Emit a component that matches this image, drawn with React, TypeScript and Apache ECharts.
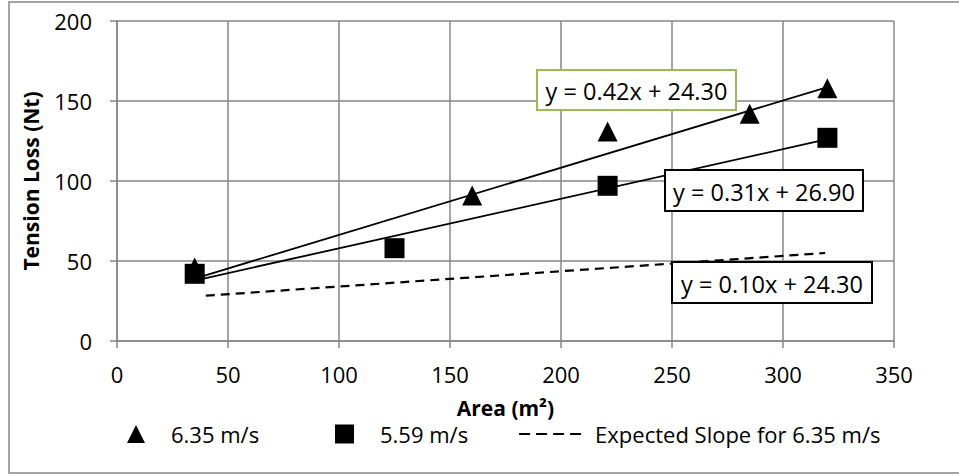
import React, { useEffect, useRef } from "react";
import * as echarts from "echarts";

// Observed data (Area m², Tension Loss Nt)
const speed635: [number, number][] = [
  [35, 46],
  [160, 91],
  [221, 131],
  [285, 142],
  [320, 158],
];
const speed559: [number, number][] = [
  [35, 42],
  [125, 58],
  [221, 97],
  [320, 127],
];
// Trend line end points
const trend635: [number, number][] = [
  [35, 39],
  [320, 158.7],
];
const trend559: [number, number][] = [
  [35, 37.8],
  [320, 126.1],
];
const expected635: [number, number][] = [
  [40, 28.3],
  [319, 55],
];
const equationLabels = ["y = 0.42x + 24.30", "y = 0.31x + 26.90", "y = 0.10x + 24.30"];
const seriesNames = ["6.35 m/s", "5.59 m/s", "Expected Slope for 6.35 m/s"];

const FONT = "Open Sans";
const GRID = "#878787";

export default function App() {
  const ref = useRef<HTMLDivElement>(null);
  useEffect(() => {
    if (!ref.current) return;
    const chart = echarts.init(ref.current, undefined, { renderer: "svg" });
    const labelBox = (x: number, y: number, w: number, h: number, text: string, stroke: string) => ({
      type: "group",
      children: [
        {
          type: "rect",
          shape: { x, y, width: w, height: h },
          style: { fill: "#fff", stroke, lineWidth: 2 },
          z: 10,
        },
        {
          type: "text",
          x: x + w / 2,
          y: y + h / 2 + 1,
          style: {
            text,
            fill: "#000",
            font: `23.5px "${FONT}"`,
            textAlign: "center",
            textVerticalAlign: "middle",
          },
          z: 11,
        },
      ],
    });
    const legendText = { color: "#000", fontFamily: FONT, fontSize: 22 };
    chart.setOption({
      animation: false,
      backgroundColor: "#fff",
      grid: { left: 117, right: 65, top: 21, bottom: 133, containLabel: false },
      xAxis: {
        type: "value",
        min: 0,
        max: 350,
        interval: 50,
        name: "Area (m²)",
        nameLocation: "middle",
        nameGap: 56,
        nameTextStyle: { color: "#000", fontFamily: FONT, fontSize: 21, fontWeight: "bold" },
        axisLine: { show: true, lineStyle: { color: GRID, width: 1.5 } },
        axisTick: { show: true, length: 7, lineStyle: { color: GRID, width: 1.5 } },
        axisLabel: { color: "#000", fontFamily: FONT, fontSize: 22, margin: 22 },
        splitLine: { show: true, lineStyle: { color: GRID, width: 1.5 } },
      },
      yAxis: {
        type: "value",
        min: 0,
        max: 200,
        interval: 50,
        name: "Tension Loss (Nt)",
        nameLocation: "middle",
        nameGap: 76,
        nameTextStyle: { color: "#000", fontFamily: FONT, fontSize: 21, fontWeight: "bold" },
        axisLine: { show: true, lineStyle: { color: GRID, width: 1.5 } },
        axisTick: { show: true, length: 7, lineStyle: { color: GRID, width: 1.5 } },
        axisLabel: { color: "#000", fontFamily: FONT, fontSize: 22, margin: 25 },
        splitLine: { show: true, lineStyle: { color: GRID, width: 1.5 } },
      },
      legend: [
        {
          data: [seriesNames[0]],
          left: 122,
          top: 418,
          itemWidth: 18,
          itemHeight: 18,
          textStyle: { ...legendText, padding: [0, 0, 0, 21] },
        },
        {
          data: [seriesNames[1]],
          left: 330,
          top: 418,
          itemWidth: 19,
          itemHeight: 19,
          textStyle: { ...legendText, padding: [0, 0, 0, 21] },
        },
        {
          data: [seriesNames[2]],
          left: 513,
          top: 418,
          itemWidth: 62,
          itemHeight: 18,
          itemStyle: { opacity: 0 },
          lineStyle: { opacity: 1, width: 2.2, type: [11, 6], color: "#000" },
          textStyle: { ...legendText, padding: [0, 0, 0, 9] },
        },
      ],
      graphic: [
        {
          type: "rect",
          shape: { x: 9, y: 2, width: 960, height: 471 },
          style: { fill: "none", stroke: GRID, lineWidth: 1.5 },
          z: 0,
        },
        labelBox(537, 70, 199, 40, equationLabels[0], "#9BBB59"),
        labelBox(665, 170, 198, 41, equationLabels[1], "#000"),
        labelBox(672, 262, 200, 41, equationLabels[2], "#000"),
      ],
      series: [
        {
          type: "line",
          data: trend635,
          symbol: "none",
          lineStyle: { color: "#000", width: 1.8 },
          silent: true,
          z: 2,
        },
        {
          type: "line",
          data: trend559,
          symbol: "none",
          lineStyle: { color: "#000", width: 1.8 },
          silent: true,
          z: 2,
        },
        {
          name: seriesNames[2],
          type: "line",
          data: expected635,
          symbol: "none",
          itemStyle: { color: "#000" },
          lineStyle: { color: "#000", width: 2.2, type: [9, 6] },
          z: 2,
        },
        {
          name: seriesNames[0],
          type: "scatter",
          data: speed635,
          symbol: "triangle",
          symbolSize: 20,
          itemStyle: { color: "#000", opacity: 1 },
          z: 3,
        },
        {
          name: seriesNames[1],
          type: "scatter",
          data: speed559,
          symbol: "rect",
          symbolSize: 20,
          itemStyle: { color: "#000", opacity: 1 },
          z: 4,
        },
      ],
    });
    return () => chart.dispose();
  }, []);
  return (
    <div
      ref={ref}
      style={{ position: "absolute", left: 0, top: 0, width: 959, height: 474 }}
    />
  );
}
